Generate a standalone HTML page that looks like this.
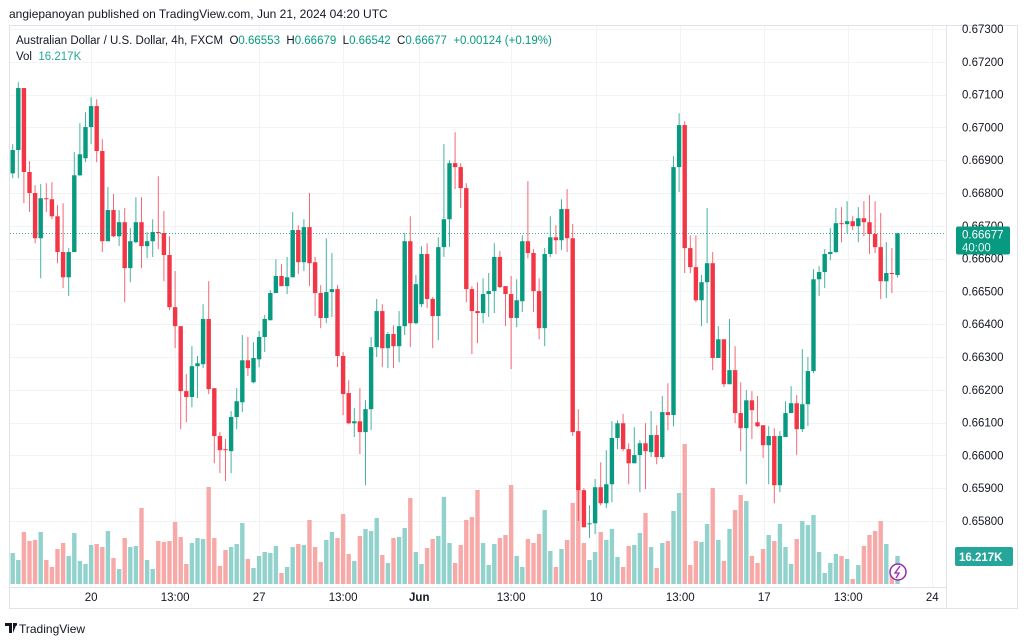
<!DOCTYPE html>
<html><head><meta charset="utf-8"><style>
html,body{margin:0;padding:0;background:#fff;width:1024px;height:643px;overflow:hidden;font-family:"Liberation Sans",sans-serif}
svg{position:absolute;left:0;top:0}
</style></head><body>
<svg id="chart" width="1024" height="643" xmlns="http://www.w3.org/2000/svg"></svg>
<script>
const opens=[0.66860,0.66931,0.67120,0.66864,0.66800,0.66662,0.66784,0.66781,0.66729,0.66620,0.66543,0.66620,0.66854,0.66906,0.67001,0.67065,0.66928,0.66653,0.66748,0.66668,0.66711,0.66571,0.66650,0.66711,0.66638,0.66653,0.66681,0.66678,0.66611,0.66452,0.66394,0.66196,0.66178,0.66272,0.66278,0.66416,0.66205,0.66059,0.66019,0.66013,0.66117,0.66162,0.66290,0.66223,0.66293,0.66361,0.66412,0.66495,0.66547,0.66516,0.66543,0.66687,0.66589,0.66696,0.66589,0.66495,0.66419,0.66498,0.66507,0.66303,0.66190,0.66098,0.66104,0.66071,0.66141,0.66330,0.66440,0.66327,0.66370,0.66333,0.66394,0.66653,0.66403,0.66461,0.66614,0.66477,0.66425,0.66635,0.66720,0.66891,0.66879,0.66815,0.66507,0.66440,0.66434,0.66492,0.66501,0.66605,0.66516,0.66492,0.66419,0.66470,0.66653,0.66617,0.66501,0.66388,0.66614,0.66665,0.66656,0.66751,0.66662,0.66074,0.65894,0.65790,0.65793,0.65903,0.65854,0.65912,0.66053,0.66098,0.66019,0.65976,0.66001,0.66037,0.66010,0.66062,0.65995,0.66132,0.66123,0.66879,0.67007,0.66632,0.66574,0.66473,0.66528,0.66586,0.66297,0.66354,0.66217,0.66260,0.66129,0.66083,0.66168,0.66101,0.66092,0.66031,0.66059,0.65909,0.66056,0.66129,0.66159,0.66080,0.66156,0.66257,0.66537,0.66559,0.66614,0.66620,0.66708,0.66705,0.66714,0.66699,0.66723,0.66711,0.66675,0.66635,0.66531,0.66556,0.66550];
const highs=[0.66949,0.67138,0.67120,0.66897,0.66824,0.66827,0.66830,0.66833,0.66763,0.66769,0.66632,0.66925,0.67013,0.67046,0.67092,0.67086,0.66964,0.66818,0.66797,0.66748,0.66754,0.66693,0.66787,0.66787,0.66681,0.66720,0.66851,0.66745,0.66668,0.66562,0.66394,0.66248,0.66333,0.66303,0.66461,0.66531,0.66205,0.66071,0.66050,0.66135,0.66205,0.66367,0.66361,0.66345,0.66379,0.66428,0.66504,0.66598,0.66583,0.66605,0.66742,0.66702,0.66720,0.66800,0.66605,0.66519,0.66662,0.66617,0.66519,0.66315,0.66229,0.66144,0.66205,0.66168,0.66361,0.66477,0.66461,0.66376,0.66397,0.66440,0.66678,0.66729,0.66550,0.66638,0.66647,0.66483,0.66665,0.66949,0.66900,0.66985,0.66891,0.66830,0.66516,0.66528,0.66540,0.66556,0.66647,0.66623,0.66516,0.66547,0.66537,0.66671,0.66836,0.66629,0.66540,0.66632,0.66729,0.66702,0.66781,0.66812,0.66705,0.66141,0.65900,0.65848,0.65928,0.65979,0.66016,0.66104,0.66107,0.66126,0.66037,0.66086,0.66046,0.66098,0.66135,0.66092,0.66181,0.66220,0.66912,0.67043,0.67019,0.66671,0.66671,0.66550,0.66754,0.66620,0.66394,0.66354,0.66416,0.66333,0.66223,0.66199,0.66196,0.66181,0.66092,0.66089,0.66083,0.66074,0.66165,0.66211,0.66184,0.66324,0.66300,0.66568,0.66577,0.66629,0.66693,0.66754,0.66757,0.66775,0.66729,0.66757,0.66775,0.66793,0.66775,0.66739,0.66650,0.66632,0.66679];
const lows=[0.66845,0.66845,0.66769,0.66742,0.66647,0.66540,0.66742,0.66720,0.66586,0.66510,0.66486,0.66620,0.66851,0.66894,0.66949,0.66894,0.66620,0.66653,0.66665,0.66638,0.66467,0.66528,0.66647,0.66571,0.66601,0.66605,0.66629,0.66531,0.66443,0.66327,0.66080,0.66101,0.66147,0.66175,0.66266,0.66187,0.65976,0.65946,0.65922,0.65946,0.66080,0.66132,0.66242,0.66220,0.66269,0.66315,0.66412,0.66495,0.66516,0.66492,0.66543,0.66553,0.66562,0.66516,0.66425,0.66388,0.66403,0.66422,0.66269,0.66123,0.66095,0.66056,0.66004,0.65909,0.66077,0.66300,0.66269,0.66266,0.66266,0.66284,0.66367,0.66330,0.66400,0.66452,0.66449,0.66327,0.66351,0.66605,0.66635,0.66812,0.66754,0.66467,0.66309,0.66342,0.66403,0.66422,0.66434,0.66510,0.66394,0.66263,0.66391,0.66437,0.66601,0.66437,0.66354,0.66333,0.66605,0.66614,0.66626,0.66620,0.66059,0.65800,0.65781,0.65748,0.65760,0.65848,0.65839,0.65857,0.66019,0.66013,0.65912,0.65976,0.65888,0.65897,0.65995,0.65973,0.65989,0.66077,0.66089,0.66803,0.66556,0.66556,0.66467,0.66394,0.66403,0.66260,0.66297,0.66208,0.66217,0.66098,0.66013,0.65912,0.66050,0.66086,0.65992,0.65912,0.65854,0.65888,0.66056,0.66129,0.66001,0.66071,0.66089,0.66251,0.66486,0.66510,0.66595,0.66617,0.66650,0.66678,0.66687,0.66650,0.66668,0.66614,0.66617,0.66477,0.66480,0.66495,0.66542];
const closes=[0.66931,0.67120,0.66864,0.66800,0.66662,0.66784,0.66781,0.66729,0.66620,0.66543,0.66620,0.66854,0.66918,0.67001,0.67065,0.66928,0.66653,0.66748,0.66668,0.66711,0.66571,0.66653,0.66711,0.66638,0.66653,0.66681,0.66678,0.66611,0.66452,0.66394,0.66196,0.66178,0.66272,0.66281,0.66416,0.66202,0.66059,0.66016,0.66016,0.66117,0.66165,0.66290,0.66266,0.66297,0.66361,0.66416,0.66495,0.66547,0.66516,0.66543,0.66687,0.66589,0.66696,0.66586,0.66495,0.66419,0.66498,0.66507,0.66303,0.66187,0.66098,0.66104,0.66071,0.66141,0.66330,0.66440,0.66327,0.66370,0.66333,0.66394,0.66653,0.66403,0.66522,0.66614,0.66477,0.66425,0.66635,0.66720,0.66891,0.66879,0.66815,0.66507,0.66440,0.66434,0.66492,0.66501,0.66605,0.66513,0.66492,0.66419,0.66473,0.66653,0.66617,0.66501,0.66388,0.66614,0.66665,0.66656,0.66751,0.66662,0.66071,0.65894,0.65781,0.65793,0.65903,0.65854,0.65912,0.66053,0.66098,0.66019,0.65976,0.66001,0.66037,0.66013,0.66062,0.65995,0.66132,0.66123,0.66879,0.67007,0.66632,0.66574,0.66473,0.66528,0.66586,0.66297,0.66354,0.66217,0.66260,0.66129,0.66083,0.66168,0.66138,0.66089,0.66031,0.66059,0.65909,0.66059,0.66129,0.66159,0.66080,0.66156,0.66257,0.66537,0.66559,0.66614,0.66620,0.66708,0.66705,0.66714,0.66699,0.66723,0.66711,0.66675,0.66635,0.66531,0.66556,0.66553,0.66677];
const volumes=[31,24,52,43,44,52,24,17,35,41,28,51,23,20,39,40,37,53,26,15,46,37,38,76,24,15,43,42,43,62,47,20,41,46,45,97,46,18,34,37,40,61,25,16,28,32,31,38,11,17,37,40,39,64,37,22,44,52,46,70,30,23,48,55,53,66,29,21,46,47,56,86,32,20,36,45,48,87,41,21,39,64,67,94,41,19,40,46,49,99,28,17,45,41,50,74,33,17,35,44,81,101,41,24,32,52,44,55,27,17,38,39,51,71,37,16,41,43,73,91,140,19,43,42,60,96,44,23,55,74,89,83,28,21,35,49,43,60,37,20,45,63,59,69,32,11,21,30,28,25,5,19,38,49,53,63,40,10,28];
const priceTicks=[0.673,0.672,0.671,0.670,0.669,0.668,0.667,0.666,0.665,0.664,0.663,0.662,0.661,0.660,0.659,0.658];
const timeLabels=["20","13:00","27","13:00","Jun","13:00","10","13:00","17","13:00","24"];
const timeIdx=[14.0,29.0,44.0,59.0,72.6,89.0,104.2,119.2,134.2,149.2,164.2];

const svg=document.getElementById('chart');
const NS='http://www.w3.org/2000/svg';
const P0=0.673,Y0=29,PXPER=32800;
const yP=p=>Y0+(P0-p)*PXPER;
const xI=i=>12.7+i*5.6;
const VBASE=584,VPX=1;
const yV=v=>VBASE-v*VPX;
function mk(tag,attrs,parent){const e=document.createElementNS(NS,tag);for(const k in attrs)e.setAttribute(k,attrs[k]);(parent||svg).appendChild(e);return e;}

const frame=mk('rect',{x:9.5,y:25.5,width:1008,height:583,fill:'none',stroke:'#e0e3eb'});


mk('line',{x1:9.5,y1:587.5,x2:946,y2:587.5,stroke:'#e0e3eb'});
mk('line',{x1:946.5,y1:25,x2:946.5,y2:609,stroke:'#e0e3eb'});

const grid=mk('g',{});


priceTicks.forEach(t=>{const y=Math.round(yP(t))+0.5;mk('line',{x1:10,y1:y,x2:946,y2:y,stroke:'#f2f3f5'},grid);});
timeIdx.forEach(i=>{const x=Math.round(xI(i))+0.5;mk('line',{x1:x,y1:26,x2:x,y2:587,stroke:'#f2f3f5'},grid);});

const vg=mk('g',{});


volumes.forEach((v,i)=>{const up=closes[i]>=opens[i];const r=mk('rect',{x:xI(i)-2.2,y:yV(v),width:4.4,height:v*VPX,fill:up?'#92d2cc':'#f7a9a7'},vg);

});

const cg=mk('g',{});


opens.forEach((o,i)=>{const c=closes[i];const up=c>=o;const col=up?'#089981':'#f23645';const x=xI(i);
const g=mk('g',{},cg);


mk('line',{x1:x,y1:yP(highs[i]),x2:x,y2:yP(lows[i]),stroke:col,'stroke-width':1,'stroke-opacity':0.75},g);
const t=yP(Math.max(o,c)),b=yP(Math.min(o,c));
mk('rect',{x:x-2.2,y:t,width:4.4,height:Math.max(1,b-t),fill:col},g);});

const lp=closes[closes.length-1];
const ly=Math.round(yP(lp))+0.5;
const pl=mk('line',{x1:10,y1:ly,x2:946,y2:ly,stroke:'#089981','stroke-dasharray':'1 2','stroke-opacity':0.8});



const pa=mk('g',{});


priceTicks.forEach(t=>{const tx=mk('text',{x:962,y:yP(t)+4,'font-size':11.5,fill:'#131722','font-family':'Liberation Sans, sans-serif'},pa);tx.textContent=t.toFixed(5);

});
const pb=mk('g',{});


mk('rect',{x:956,y:ly-7,width:54,height:28,rx:2,fill:'#089981'},pb);
const pt1=mk('text',{x:962,y:ly+5,'font-size':11.5,fill:'#fff','font-family':'Liberation Sans, sans-serif'},pb);pt1.textContent=lp.toFixed(5);
const pt2=mk('text',{x:962,y:ly+18,'font-size':11.5,fill:'#e8f5f3','font-family':'Liberation Sans, sans-serif'},pb);pt2.textContent='40:00';
const vb=mk('g',{});


mk('rect',{x:955,y:547,width:58,height:19,rx:2,fill:'#26a69a'},vb);
const vt=mk('text',{x:959,y:561,'font-size':11.5,fill:'#fff','font-weight':'bold','font-family':'Liberation Sans, sans-serif'},vb);vt.textContent='16.217K';

const ta=mk('g',{});


timeLabels.forEach((l,k)=>{const tx=mk('text',{x:xI(timeIdx[k]),y:601,'font-size':11.5,fill:'#131722','text-anchor':'middle','font-weight':l==='Jun'?'bold':'normal','font-family':'Liberation Sans, sans-serif'},ta);tx.textContent=l;

});

const li=mk('g',{});


mk('circle',{cx:898,cy:572,r:8,fill:'#fff',stroke:'#9c27b0','stroke-width':1.5},li);
mk('path',{d:'M900 566 L895 573 L899 573 L896 578',fill:'none',stroke:'#9c27b0','stroke-width':1.3},li);

const h1=mk('text',{x:9,y:18,'font-size':12,fill:'#131722','font-family':'Liberation Sans, sans-serif'});


h1.textContent='angiepanoyan published on TradingView.com, Jun 21, 2024 04:20 UTC';
const h2=mk('text',{x:16,y:44,'font-size':11.5,fill:'#131722','font-family':'Liberation Sans, sans-serif'});


h2.innerHTML='Australian Dollar / U.S. Dollar, 4h, FXCM  O<tspan fill="#089981">0.66553</tspan>  H<tspan fill="#089981">0.66679</tspan>  L<tspan fill="#089981">0.66542</tspan>  C<tspan fill="#089981">0.66677</tspan>  <tspan fill="#089981">+0.00124 (+0.19%)</tspan>';
h2.setAttribute('xml:space','preserve');h2.style.whiteSpace='pre';
const h3=mk('text',{x:16,y:60,'font-size':11.5,fill:'#131722','font-family':'Liberation Sans, sans-serif'});


h3.innerHTML='Vol  <tspan fill="#26a69a">16.217K</tspan>';h3.style.whiteSpace='pre';

const lg=mk('g',{});


mk('path',{d:'M5 623 h7 v10 h-3 v-7 h-4 z M13 623 h4 l-4 10 z',fill:'#131722'},lg);
mk('circle',{cx:15.5,cy:624.5,r:1.5,fill:'#131722'},lg);
const lt=mk('text',{x:19,y:633,'font-size':12,fill:'#131722','font-family':'Liberation Sans, sans-serif'},lg);lt.textContent='TradingView';
</script>
</body></html>
